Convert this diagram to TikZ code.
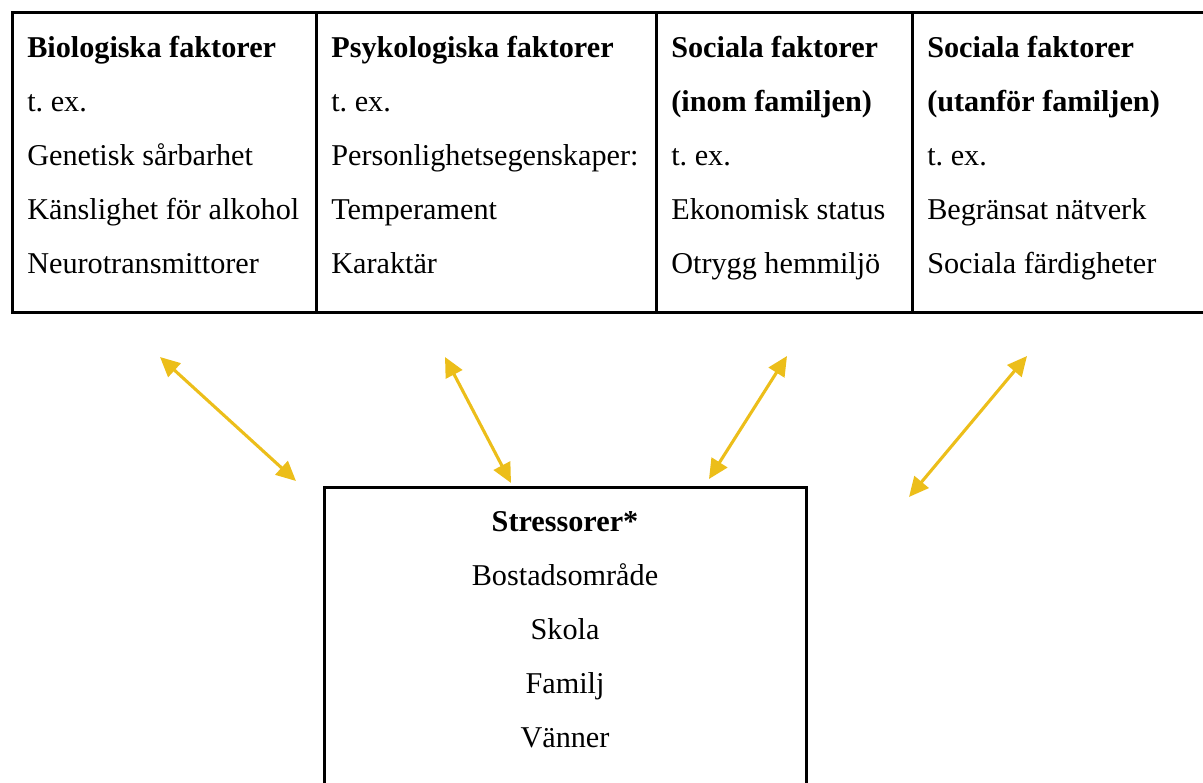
\documentclass[tikz,border=0pt]{standalone}
\usepackage{fontspec}
\setmainfont{Liberation Serif}
\usepackage{tikz}
\usetikzlibrary{arrows.meta}

\definecolor{pilgul}{RGB}{236,190,26}

\tikzset{
    tabell/.style={draw=black, line width=0.075cm},
    cell/.style={anchor=north west, inner sep=0pt, align=left, font=\fontsize{21.5}{38.4}\selectfont},
    stresstext/.style={anchor=north, inner sep=0pt, align=center, font=\fontsize{21.5}{38.4}\selectfont},
    pil/.style={{Triangle[length=14pt,width=13pt]}-{Triangle[length=14pt,width=13pt]}, draw=pilgul, line width=2.2pt}
}

\newcommand{\forsta}{\rule{0pt}{0.6cm}}
\frenchspacing

\begin{document}
\begin{tikzpicture}

        \useasboundingbox (0,0) rectangle (30.075,-19.575);
        \clip (0,0) rectangle (30.075,-19.575);

        % -----------------------------------------------------------------
        % TABELL MED FAKTORER
        % -----------------------------------------------------------------
        \draw[tabell] (0.3,-0.325) rectangle (30.4,-7.8);
        \foreach \x in {7.9, 16.4, 22.8}
            \draw[tabell] (\x,-0.325) -- (\x,-7.8);

        \node (bio) [cell] at (0.675,-0.82) {\forsta\textbf{Biologiska faktorer}\\t. ex.\\Genetisk sårbarhet\\Känslighet för alkohol\\Neurotransmittorer};
        \node (psyk) [cell] at (8.275,-0.82) {\forsta\textbf{Psykologiska faktorer}\\t. ex.\\Personlighetsegenskaper:\\Temperament\\Karaktär};
        \node (soc_inom) [cell] at (16.775,-0.82) {\forsta\textbf{Sociala faktorer}\\\textbf{(inom familjen)}\\t. ex.\\Ekonomisk status\\Otrygg hemmiljö};
        \node (soc_utom) [cell] at (23.175,-0.82) {\forsta\textbf{Sociala faktorer}\\\textbf{(utanför familjen)}\\t. ex.\\Begränsat nätverk\\Sociala färdigheter};

        % -----------------------------------------------------------------
        % STRESSORER
        % -----------------------------------------------------------------
        \draw[tabell] (8.1,-12.175) rectangle (20.15,-20.5);
        \node (stress) [stresstext] at (14.125,-12.67) {\forsta\textbf{Stressorer*}\\Bostadsområde\\Skola\\Familj\\Vänner};

        % -----------------------------------------------------------------
        % PILAR
        % -----------------------------------------------------------------
        \coordinate (bio_p) at (4.0,-8.925);
        \coordinate (psyk_p) at (11.125,-8.925);
        \coordinate (inom_p) at (19.675,-8.9);
        \coordinate (utom_p) at (25.675,-8.9);

        \coordinate (s1) at (7.4,-12.025);
        \coordinate (s2) at (12.775,-12.075);
        \coordinate (s3) at (17.725,-11.975);
        \coordinate (s4) at (22.725,-12.425);

        \draw[pil] (bio_p) -- (s1);
        \draw[pil] (psyk_p) -- (s2);
        \draw[pil] (inom_p) -- (s3);
        \draw[pil] (utom_p) -- (s4);

\end{tikzpicture}
\end{document}
